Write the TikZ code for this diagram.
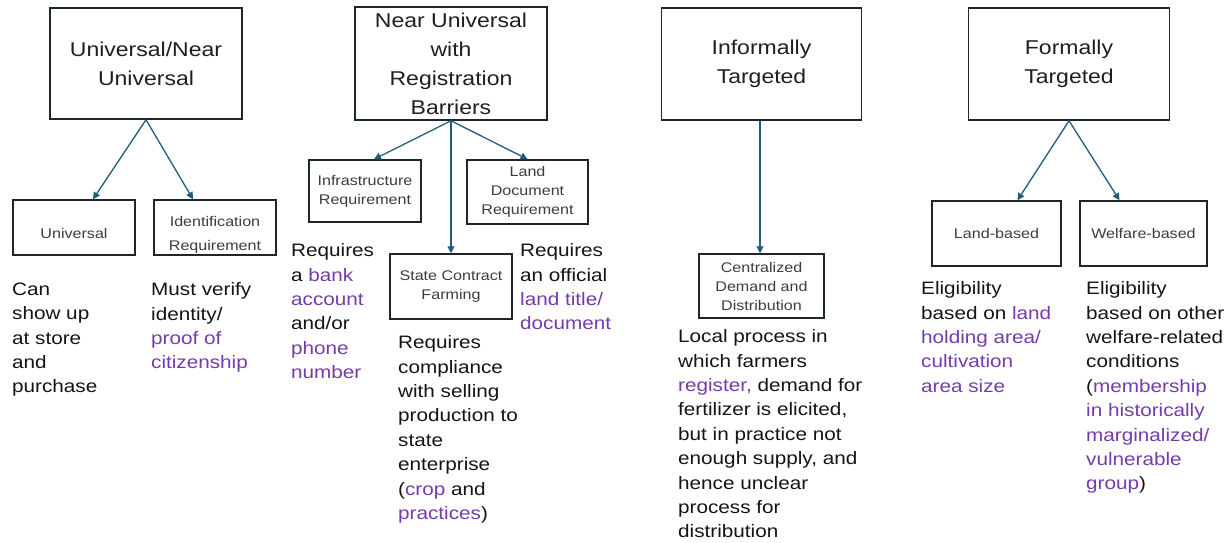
\documentclass[tikz,border=0pt]{standalone}
\usepackage{fontspec}
\setmainfont{Liberation Sans}[FakeStretch=1.15]
\usetikzlibrary{arrows.meta}
\definecolor{boxline}{RGB}{28,38,44}
\definecolor{arrowc}{RGB}{33,92,120}
\definecolor{purp}{RGB}{117,59,173}
\definecolor{labelgray}{RGB}{60,60,60}
\newcommand{\pu}[1]{\textcolor{purp}{#1}}

\begin{document}
\begin{tikzpicture}[x=1pt, y=-1pt,
    topbox/.style={draw=boxline, line width=1.5pt, align=center, inner sep=0pt,
      font=\fontsize{20}{29}\selectfont, text=black!88},
    subbox/.style={draw=boxline, line width=1.5pt, align=center, inner sep=0pt,
      font=\fontsize{14}{19}\selectfont, text=labelgray},
    sublabel/.style={align=center, inner sep=0pt, text=labelgray, font=\fontsize{14}{24}\selectfont},
    note/.style={anchor=north west, align=left, inner sep=0pt, text=black!92,
      font=\fontsize{18}{24.4}\selectfont, execute at begin node=\strut},
    link/.style={draw=arrowc, line width=1.3pt, -{Triangle[length=7pt,width=7pt]}}]
    \useasboundingbox (0,0) rectangle (1227,543);

    % top level boxes
    \node[topbox, minimum width=192pt, minimum height=111pt] (univ) at (146,63.5) {Universal/Near\\Universal};
    \node[topbox, minimum width=192pt, minimum height=113pt] (nearuniv) at (451,63.5) {Near Universal\\with\\Registration\\Barriers};
    \node[topbox, minimum width=200pt, minimum height=112pt] (informal) at (761.5,64) {Informally\\Targeted};
    \node[topbox, minimum width=201pt, minimum height=112pt] (formal) at (1069,64) {Formally\\Targeted};

    % second level boxes
    \node[subbox, minimum width=122pt, minimum height=55pt,
      label={[sublabel, yshift=-5.5pt]center:Universal}] (universal) at (74,227.5) {};
    \node[subbox, minimum width=122pt, minimum height=55pt,
      label={[sublabel, yshift=-7.5pt]center:{Identification\\Requirement}}] (ident) at (215,227.5) {};
    \node[subbox, minimum width=112pt, minimum height=62pt] (infra) at (365,191) {Infrastructure\\Requirement};
    \node[subbox, minimum width=121pt, minimum height=64pt] (landdoc) at (527.5,192) {Land\\Document\\Requirement};
    \node[subbox, minimum width=122pt, minimum height=65pt] (state) at (451,286.5) {State Contract\\Farming};
    \node[subbox, minimum width=125pt, minimum height=64pt] (central) at (761.5,286) {Centralized\\Demand and\\Distribution};
    \node[subbox, minimum width=129pt, minimum height=65pt] (landbased) at (996.5,233.5) {Land-based};
    \node[subbox, minimum width=127pt, minimum height=65pt] (welfare) at (1143.5,233.5) {Welfare-based};

    % arrows
    \draw[link] (univ.south) -- ([xshift=19pt]universal.north);
    \draw[link] (univ.south) -- ([xshift=-22pt]ident.north);
    \draw[link] (nearuniv.south) -- ([xshift=9pt]infra.north);
    \draw[link] (nearuniv.south) -- (landdoc.north);
    \draw[link] (nearuniv.south) -- (state.north);
    \draw[link] ([xshift=-1.5pt]informal.south) -- ([xshift=-1.5pt]central.north);
    \draw[link] (formal.south) -- ([xshift=21pt]landbased.north);
    \draw[link] (formal.south) -- ([xshift=-24pt]welfare.north);

    % descriptions
    \node[note] (cantxt) at (12,282.5) {Can\\show up\\at store\\and\\purchase};
    \node[note] (musttxt) at (151,282.5) {Must verify\\identity/\\\pu{proof of}\\\pu{citizenship}};
    \node[note] (banktxt) at (291,243.5) {Requires\\a \pu{bank}\\\pu{account}\\and/or\\\pu{phone}\\\pu{number}};
    \node[note] (titletxt) at (520,243.5) {Requires\\an official\\\pu{land title/}\\\pu{document}};
    \node[note] (comptxt) at (398,335.5) {Requires\\compliance\\with selling\\production to\\state\\enterprise\\(\pu{crop} and\\\pu{practices})};
    \node[note] (localtxt) at (678,329.5) {Local process in\\which farmers\\\pu{register,} demand for\\fertilizer is elicited,\\but in practice not\\enough supply, and\\hence unclear\\process for\\distribution};
    \node[note] (landtxt) at (921,281.5) {Eligibility\\based on \pu{land}\\\pu{holding area/}\\\pu{cultivation}\\\pu{area size}};
    \node[note] (welftxt) at (1086,281.5) {Eligibility\\based on other\\welfare-related\\conditions\\(\pu{membership}\\\pu{in historically}\\\pu{marginalized/}\\\pu{vulnerable}\\\pu{group})};
\end{tikzpicture}
\end{document}
